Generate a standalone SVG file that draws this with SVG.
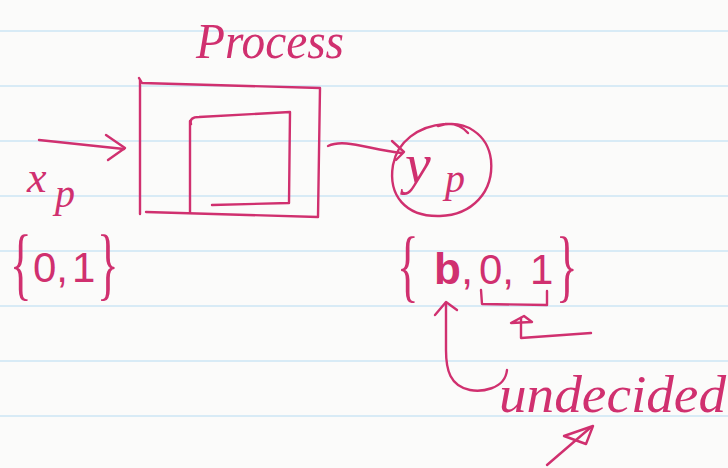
<svg xmlns="http://www.w3.org/2000/svg" width="728" height="468" viewBox="0 0 728 468">
<style>
.ink{fill:none;stroke:#d0306f;stroke-width:2.4;stroke-linecap:round;stroke-linejoin:round}
.rule{stroke:#cde6f4;stroke-width:1.6}
.t{fill:#d0306f;font-family:"Liberation Serif","DejaVu Serif",serif;font-style:italic}
.d{fill:#d0306f;font-family:"Liberation Sans","DejaVu Sans",sans-serif}
.br{fill:#d0306f;font-family:"Liberation Serif","DejaVu Serif",serif;font-size:50px}
</style>
<rect width="728" height="468" fill="#fbfbfa"/>
<g id="paper">
<line class="rule" x1="0" y1="31" x2="728" y2="31"/>
<line class="rule" x1="0" y1="86" x2="728" y2="86"/>
<line class="rule" x1="0" y1="141" x2="728" y2="141"/>
<line class="rule" x1="0" y1="196" x2="728" y2="196"/>
<line class="rule" x1="0" y1="251" x2="728" y2="251"/>
<line class="rule" x1="0" y1="306" x2="728" y2="306"/>
<line class="rule" x1="0" y1="361" x2="728" y2="361"/>
<line class="rule" x1="0" y1="416" x2="728" y2="416"/>
</g>
<g id="process">
<text class="t" x="196" y="58" font-size="50" textLength="148" lengthAdjust="spacingAndGlyphs">Process</text>
<path class="ink" d="M139,78 L142,83 L320,88 L318,217 L146,212"/>
<path class="ink" d="M140,80 L140,214" stroke-width="3.2"/>
<path class="ink" d="M191,124 Q189,117 199,117 L290,112 L289,203 L212,205"/>
<path class="ink" d="M190,121 L190,212"/>
</g>
<g id="xp">
<text class="t" x="27" y="192" font-size="44">x</text>
<text class="t" x="55" y="207" font-size="40">p</text>
</g>
<g id="xset">
<text class="br" transform="translate(10,290) scale(0.9,1.6)">{</text>
<text class="d" x="33" y="282" font-size="42">0,</text>
<text class="d" x="72" y="282" font-size="42">1</text>
<text class="br" transform="translate(97,290) scale(0.9,1.6)">}</text>
</g>
<g id="yp">
<path class="ink" d="M438,126 C465,118 488,135 491,160 C494,192 472,215 440,216 C405,217 388,195 393,165 C397,142 418,126 445,124 C455,123 462,126 468,133"/>
<text class="t" x="405" y="183" font-size="58">y</text>
<text class="t" x="445" y="192" font-size="40">p</text>
</g>
<g id="yset">
<text class="br" transform="translate(397,292) scale(0.9,1.6)">{</text>
<text class="d" x="434" y="284" font-size="44"><tspan font-weight="700">b</tspan>,</text>
<text class="d" x="479" y="284" font-size="42">0,</text>
<text class="d" x="530" y="284" font-size="42">1</text>
<text class="br" transform="translate(556,292) scale(0.9,1.6)">}</text>
<path class="ink" d="M481,290 L482,304 L547,305 L547,291"/>
</g>
<g id="undecided">
<text class="t" x="499" y="412" font-size="52" textLength="227" lengthAdjust="spacingAndGlyphs">undecided</text>
</g>
<g id="connectors">
<path class="ink" d="M39,140 L124,149"/>
<path class="ink" d="M106,135 L125,148 L108,160"/>
<path class="ink" d="M328,146 C345,138 370,150 402,153"/>
<path class="ink" d="M392,141 L404,152 L396,160"/>
<path class="ink" d="M507,370 C505,390 480,392 470,390 C450,386 446,370 446,350 L446,303"/>
<path class="ink" d="M435,315 L446,302 L457,310"/>
<path class="ink" d="M591,333 L521,338 L521,318"/>
<path class="ink" d="M511,323 L524,316 L532,322 Z"/>
<path class="ink" d="M547,465 L590,428"/>
<path class="ink" d="M564,436 L593,426 L586,444 Z"/>
</g>
</svg>
